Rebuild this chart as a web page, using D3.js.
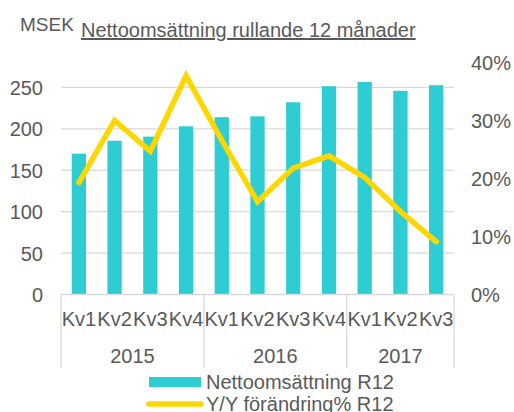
<!DOCTYPE html>
<meta charset="utf-8">
<style>
  body { margin: 0; background: #fff; }
  svg text { font-family: "Liberation Sans", Arial, sans-serif; fill: #595959; }
</style>
<script src="https://d3js.org/d3.v7.min.js"></script>
<div id="chart"></div>
<script>

// data
var quarters = ["Kv1","Kv2","Kv3","Kv4","Kv1","Kv2","Kv3","Kv4","Kv1","Kv2","Kv3"];
var years = ["2015","2015","2015","2015","2016","2016","2016","2016","2017","2017","2017"];
var yearGroups = ["2015","2016","2017"];
var netSales = [170, 185.6, 190.5, 203, 214, 215, 232, 251.4, 256.6, 245.8, 252.6];
var growth = [0.193, 0.30, 0.247, 0.377, 0.266, 0.16, 0.218, 0.239, 0.202, 0.143, 0.091];
var leftTicks = [0, 50, 100, 150, 200, 250];
var rightTicks = [0, 0.1, 0.2, 0.3, 0.4];

var W = 514, H = 412;
var plot = {left: 61, right: 454, top: 62.5, bottom: 294.5};

var svg = d3.select("#chart").append("svg")
  .attr("width", W).attr("height", H);

var x = d3.scaleBand()
  .domain(d3.range(quarters.length))
  .range([plot.left, plot.right])
  .paddingInner(0.6).paddingOuter(0.3);

var y = d3.scaleLinear().domain([0, 280]).range([plot.bottom, plot.top]);
var y2 = d3.scaleLinear().domain([0, 0.4]).range([plot.bottom, plot.top]);

// gridlines
svg.append("g").selectAll("line")
  .data(leftTicks.filter(function(d) { return d > 0; }))
  .enter().append("line")
    .attr("x1", plot.left).attr("x2", plot.right)
    .attr("y1", function(d) { return y(d); })
    .attr("y2", function(d) { return y(d); })
    .attr("stroke", "#d9d9d9").attr("stroke-width", 1.3);

// bars
svg.append("g").selectAll("rect")
  .data(netSales)
  .enter().append("rect")
    .attr("x", function(d, i) { return x(i); })
    .attr("y", function(d) { return y(d); })
    .attr("width", x.bandwidth())
    .attr("height", function(d) { return y(0) - y(d); })
    .attr("fill", "#2ECCD3");

// category axis
var step = x.step();
var cat = svg.append("g");
cat.append("line")
  .attr("x1", plot.left).attr("x2", plot.right)
  .attr("y1", plot.bottom).attr("y2", plot.bottom)
  .attr("stroke", "#d9d9d9").attr("stroke-width", 1.3);

// group separators sit on category boundaries
var bounds = [0];
yearGroups.forEach(function(g) {
  bounds.push(years.lastIndexOf(g) + 1);
});
function edge(i) {
  return i < quarters.length ? x(i) - x.paddingInner() * step / 2 : plot.right;
}
cat.selectAll("line.sep")
  .data(bounds)
  .enter().append("line")
    .attr("class", "sep")
    .attr("x1", edge).attr("x2", edge)
    .attr("y1", plot.bottom).attr("y2", 368)
    .attr("stroke", "#d9d9d9").attr("stroke-width", 1.3);

cat.selectAll("text.q")
  .data(quarters)
  .enter().append("text")
    .attr("class", "q")
    .attr("x", function(d, i) { return x(i) + x.bandwidth() / 2; })
    .attr("y", 326)
    .attr("text-anchor", "middle")
    .style("font-size", "20px")
    .text(function(d) { return d; });

cat.selectAll("text.yr")
  .data(yearGroups)
  .enter().append("text")
    .attr("class", "yr")
    .attr("x", function(g) {
      var a = years.indexOf(g), b = years.lastIndexOf(g);
      return (x(a) + x(b) + x.bandwidth()) / 2;
    })
    .attr("y", 362.5)
    .attr("text-anchor", "middle")
    .style("font-size", "20px")
    .text(function(d) { return d; });

// left axis labels
svg.append("g").selectAll("text")
  .data(leftTicks)
  .enter().append("text")
    .attr("x", 43)
    .attr("y", function(d) { return y(d) + 7.5; })
    .attr("text-anchor", "end")
    .style("font-size", "20px")
    .text(function(d) { return d; });

// right axis labels
svg.append("g").selectAll("text")
  .data(rightTicks)
  .enter().append("text")
    .attr("x", 471)
    .attr("y", function(d) { return y2(d) + 7.5; })
    .style("font-size", "20px")
    .text(function(d) { return d3.format(".0%")(d); });

// growth line
svg.append("path")
  .datum(growth)
  .attr("d", d3.line()
    .x(function(d, i) { return x(i) + x.bandwidth() / 2; })
    .y(function(d) { return y2(d); }))
  .attr("fill", "none")
  .attr("stroke", "#FFD700")
  .attr("stroke-width", 5.5)
  .attr("stroke-linejoin", "miter")
  .attr("stroke-linecap", "round");

// titles
svg.append("text")
  .attr("x", 20).attr("y", 31)
  .style("font-size", "19px")
  .text("MSEK");
svg.append("text")
  .attr("x", 81).attr("y", 37)
  .style("font-size", "20px")
  .style("text-decoration", "underline")
  .text("Nettoomsättning rullande 12 månader");

// legend
var leg = svg.append("g");
leg.append("rect")
  .attr("x", 149).attr("y", 377)
  .attr("width", 52).attr("height", 10)
  .attr("fill", "#2ECCD3");
leg.append("text")
  .attr("x", 206).attr("y", 389)
  .style("font-size", "20px")
  .text("Nettoomsättning R12");
leg.append("line")
  .attr("x1", 149).attr("x2", 201)
  .attr("y1", 404).attr("y2", 404)
  .attr("stroke", "#FFD700").attr("stroke-width", 5.5)
  .attr("stroke-linecap", "round");
leg.append("text")
  .attr("x", 206).attr("y", 411)
  .style("font-size", "20px")
  .text("Y/Y förändring% R12");

</script>
